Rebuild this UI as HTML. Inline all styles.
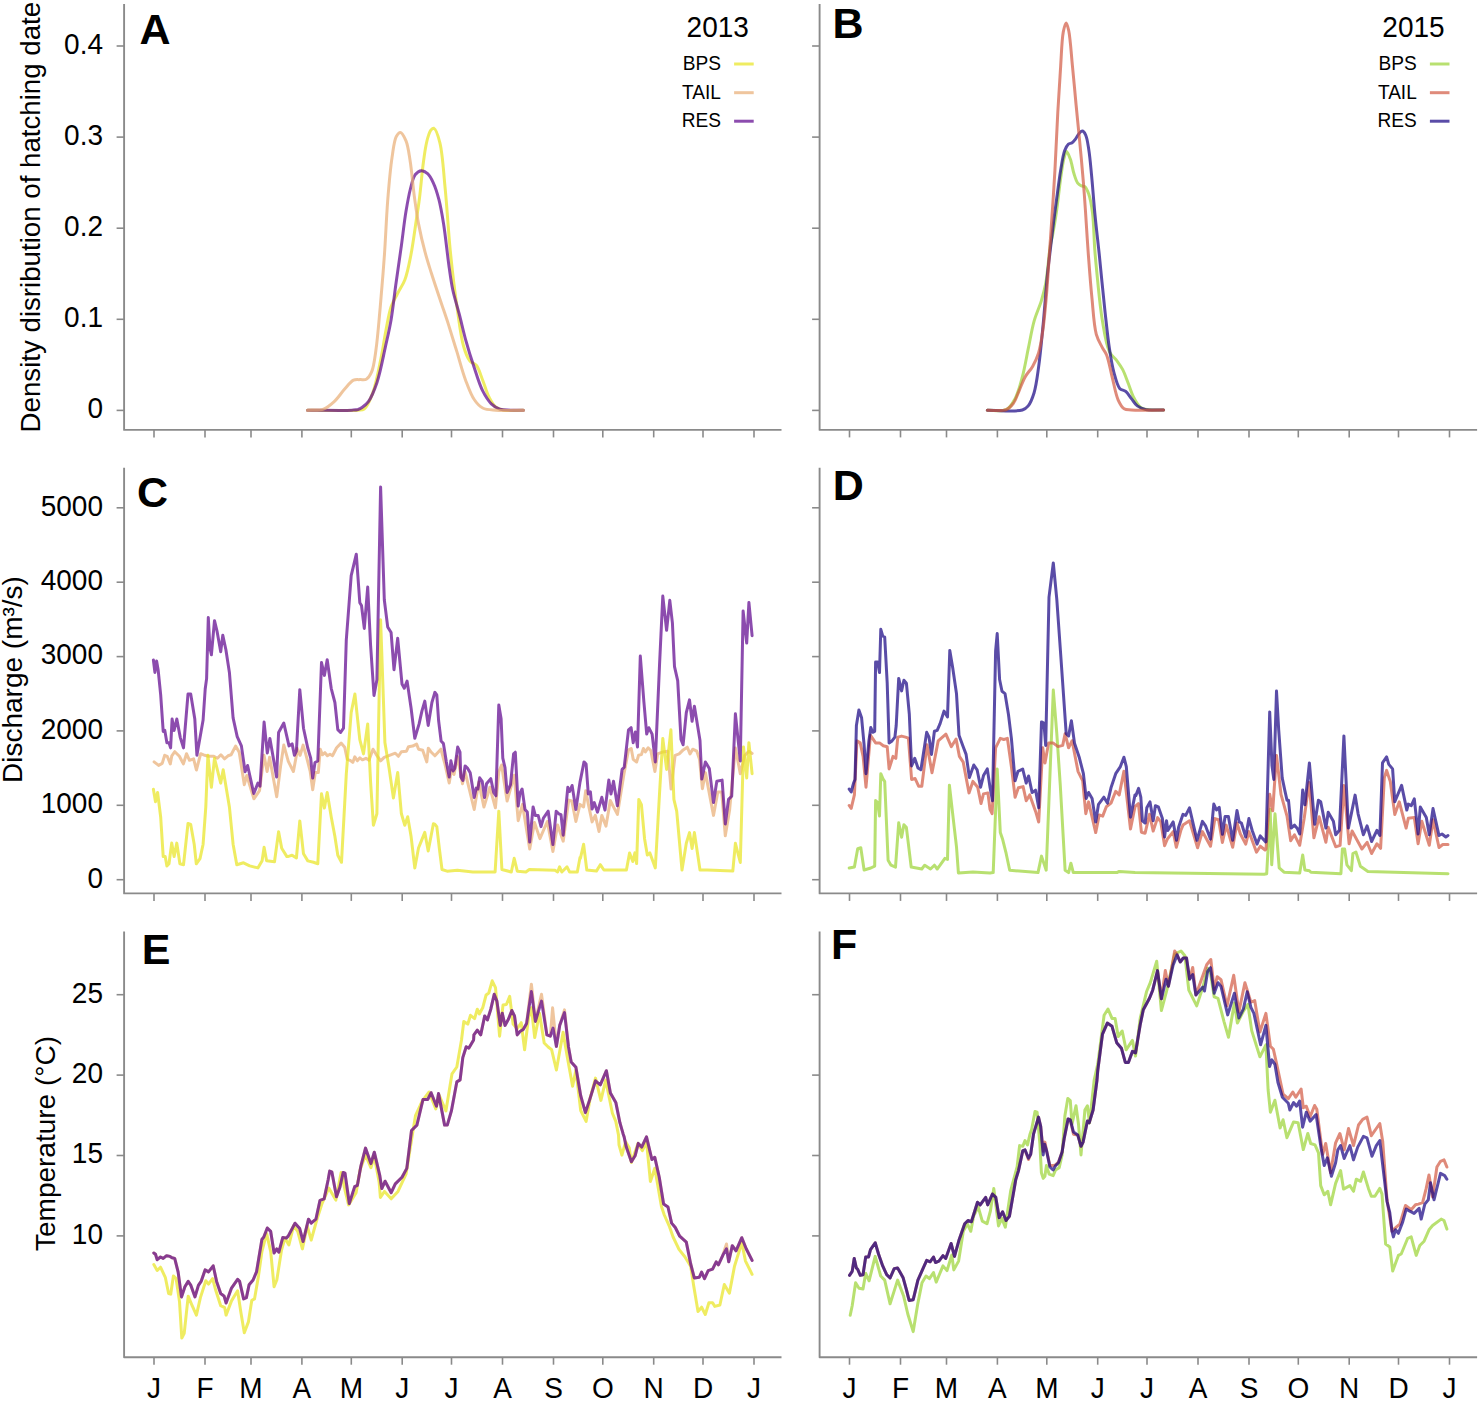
<!DOCTYPE html><html><head><meta charset="utf-8"><style>html,body{margin:0;padding:0;background:#fff;}svg{display:block;}text{font-family:"Liberation Sans",sans-serif;}</style></head><body>
<svg width="1480" height="1402" viewBox="0 0 1480 1402">
<rect width="1480" height="1402" fill="#fff"/>
<path d="M124.1 4.0 L124.1 429.9 L781.5 429.9" fill="none" stroke="#8a8a8a" stroke-width="1.9" stroke-linejoin="round"/>
<line x1="154.0" y1="429.9" x2="154.0" y2="437.4" stroke="#8a8a8a" stroke-width="1.6"/>
<line x1="205.0" y1="429.9" x2="205.0" y2="437.4" stroke="#8a8a8a" stroke-width="1.6"/>
<line x1="251.0" y1="429.9" x2="251.0" y2="437.4" stroke="#8a8a8a" stroke-width="1.6"/>
<line x1="301.9" y1="429.9" x2="301.9" y2="437.4" stroke="#8a8a8a" stroke-width="1.6"/>
<line x1="351.3" y1="429.9" x2="351.3" y2="437.4" stroke="#8a8a8a" stroke-width="1.6"/>
<line x1="402.2" y1="429.9" x2="402.2" y2="437.4" stroke="#8a8a8a" stroke-width="1.6"/>
<line x1="451.5" y1="429.9" x2="451.5" y2="437.4" stroke="#8a8a8a" stroke-width="1.6"/>
<line x1="502.5" y1="429.9" x2="502.5" y2="437.4" stroke="#8a8a8a" stroke-width="1.6"/>
<line x1="553.5" y1="429.9" x2="553.5" y2="437.4" stroke="#8a8a8a" stroke-width="1.6"/>
<line x1="602.8" y1="429.9" x2="602.8" y2="437.4" stroke="#8a8a8a" stroke-width="1.6"/>
<line x1="653.7" y1="429.9" x2="653.7" y2="437.4" stroke="#8a8a8a" stroke-width="1.6"/>
<line x1="703.0" y1="429.9" x2="703.0" y2="437.4" stroke="#8a8a8a" stroke-width="1.6"/>
<line x1="754.0" y1="429.9" x2="754.0" y2="437.4" stroke="#8a8a8a" stroke-width="1.6"/>
<path d="M819.6 4.0 L819.6 429.9 L1477.1 429.9" fill="none" stroke="#8a8a8a" stroke-width="1.9" stroke-linejoin="round"/>
<line x1="849.5" y1="429.9" x2="849.5" y2="437.4" stroke="#8a8a8a" stroke-width="1.6"/>
<line x1="900.5" y1="429.9" x2="900.5" y2="437.4" stroke="#8a8a8a" stroke-width="1.6"/>
<line x1="946.5" y1="429.9" x2="946.5" y2="437.4" stroke="#8a8a8a" stroke-width="1.6"/>
<line x1="997.4" y1="429.9" x2="997.4" y2="437.4" stroke="#8a8a8a" stroke-width="1.6"/>
<line x1="1046.8" y1="429.9" x2="1046.8" y2="437.4" stroke="#8a8a8a" stroke-width="1.6"/>
<line x1="1097.7" y1="429.9" x2="1097.7" y2="437.4" stroke="#8a8a8a" stroke-width="1.6"/>
<line x1="1147.0" y1="429.9" x2="1147.0" y2="437.4" stroke="#8a8a8a" stroke-width="1.6"/>
<line x1="1198.0" y1="429.9" x2="1198.0" y2="437.4" stroke="#8a8a8a" stroke-width="1.6"/>
<line x1="1249.0" y1="429.9" x2="1249.0" y2="437.4" stroke="#8a8a8a" stroke-width="1.6"/>
<line x1="1298.3" y1="429.9" x2="1298.3" y2="437.4" stroke="#8a8a8a" stroke-width="1.6"/>
<line x1="1349.2" y1="429.9" x2="1349.2" y2="437.4" stroke="#8a8a8a" stroke-width="1.6"/>
<line x1="1398.5" y1="429.9" x2="1398.5" y2="437.4" stroke="#8a8a8a" stroke-width="1.6"/>
<line x1="1449.5" y1="429.9" x2="1449.5" y2="437.4" stroke="#8a8a8a" stroke-width="1.6"/>
<path d="M124.1 467.8 L124.1 893.4 L781.5 893.4" fill="none" stroke="#8a8a8a" stroke-width="1.9" stroke-linejoin="round"/>
<line x1="154.0" y1="893.4" x2="154.0" y2="900.9" stroke="#8a8a8a" stroke-width="1.6"/>
<line x1="205.0" y1="893.4" x2="205.0" y2="900.9" stroke="#8a8a8a" stroke-width="1.6"/>
<line x1="251.0" y1="893.4" x2="251.0" y2="900.9" stroke="#8a8a8a" stroke-width="1.6"/>
<line x1="301.9" y1="893.4" x2="301.9" y2="900.9" stroke="#8a8a8a" stroke-width="1.6"/>
<line x1="351.3" y1="893.4" x2="351.3" y2="900.9" stroke="#8a8a8a" stroke-width="1.6"/>
<line x1="402.2" y1="893.4" x2="402.2" y2="900.9" stroke="#8a8a8a" stroke-width="1.6"/>
<line x1="451.5" y1="893.4" x2="451.5" y2="900.9" stroke="#8a8a8a" stroke-width="1.6"/>
<line x1="502.5" y1="893.4" x2="502.5" y2="900.9" stroke="#8a8a8a" stroke-width="1.6"/>
<line x1="553.5" y1="893.4" x2="553.5" y2="900.9" stroke="#8a8a8a" stroke-width="1.6"/>
<line x1="602.8" y1="893.4" x2="602.8" y2="900.9" stroke="#8a8a8a" stroke-width="1.6"/>
<line x1="653.7" y1="893.4" x2="653.7" y2="900.9" stroke="#8a8a8a" stroke-width="1.6"/>
<line x1="703.0" y1="893.4" x2="703.0" y2="900.9" stroke="#8a8a8a" stroke-width="1.6"/>
<line x1="754.0" y1="893.4" x2="754.0" y2="900.9" stroke="#8a8a8a" stroke-width="1.6"/>
<path d="M819.6 467.8 L819.6 893.4 L1477.1 893.4" fill="none" stroke="#8a8a8a" stroke-width="1.9" stroke-linejoin="round"/>
<line x1="849.5" y1="893.4" x2="849.5" y2="900.9" stroke="#8a8a8a" stroke-width="1.6"/>
<line x1="900.5" y1="893.4" x2="900.5" y2="900.9" stroke="#8a8a8a" stroke-width="1.6"/>
<line x1="946.5" y1="893.4" x2="946.5" y2="900.9" stroke="#8a8a8a" stroke-width="1.6"/>
<line x1="997.4" y1="893.4" x2="997.4" y2="900.9" stroke="#8a8a8a" stroke-width="1.6"/>
<line x1="1046.8" y1="893.4" x2="1046.8" y2="900.9" stroke="#8a8a8a" stroke-width="1.6"/>
<line x1="1097.7" y1="893.4" x2="1097.7" y2="900.9" stroke="#8a8a8a" stroke-width="1.6"/>
<line x1="1147.0" y1="893.4" x2="1147.0" y2="900.9" stroke="#8a8a8a" stroke-width="1.6"/>
<line x1="1198.0" y1="893.4" x2="1198.0" y2="900.9" stroke="#8a8a8a" stroke-width="1.6"/>
<line x1="1249.0" y1="893.4" x2="1249.0" y2="900.9" stroke="#8a8a8a" stroke-width="1.6"/>
<line x1="1298.3" y1="893.4" x2="1298.3" y2="900.9" stroke="#8a8a8a" stroke-width="1.6"/>
<line x1="1349.2" y1="893.4" x2="1349.2" y2="900.9" stroke="#8a8a8a" stroke-width="1.6"/>
<line x1="1398.5" y1="893.4" x2="1398.5" y2="900.9" stroke="#8a8a8a" stroke-width="1.6"/>
<line x1="1449.5" y1="893.4" x2="1449.5" y2="900.9" stroke="#8a8a8a" stroke-width="1.6"/>
<path d="M124.1 931.4 L124.1 1357.2 L781.5 1357.2" fill="none" stroke="#8a8a8a" stroke-width="1.9" stroke-linejoin="round"/>
<line x1="154.0" y1="1357.2" x2="154.0" y2="1364.7" stroke="#8a8a8a" stroke-width="1.6"/>
<line x1="205.0" y1="1357.2" x2="205.0" y2="1364.7" stroke="#8a8a8a" stroke-width="1.6"/>
<line x1="251.0" y1="1357.2" x2="251.0" y2="1364.7" stroke="#8a8a8a" stroke-width="1.6"/>
<line x1="301.9" y1="1357.2" x2="301.9" y2="1364.7" stroke="#8a8a8a" stroke-width="1.6"/>
<line x1="351.3" y1="1357.2" x2="351.3" y2="1364.7" stroke="#8a8a8a" stroke-width="1.6"/>
<line x1="402.2" y1="1357.2" x2="402.2" y2="1364.7" stroke="#8a8a8a" stroke-width="1.6"/>
<line x1="451.5" y1="1357.2" x2="451.5" y2="1364.7" stroke="#8a8a8a" stroke-width="1.6"/>
<line x1="502.5" y1="1357.2" x2="502.5" y2="1364.7" stroke="#8a8a8a" stroke-width="1.6"/>
<line x1="553.5" y1="1357.2" x2="553.5" y2="1364.7" stroke="#8a8a8a" stroke-width="1.6"/>
<line x1="602.8" y1="1357.2" x2="602.8" y2="1364.7" stroke="#8a8a8a" stroke-width="1.6"/>
<line x1="653.7" y1="1357.2" x2="653.7" y2="1364.7" stroke="#8a8a8a" stroke-width="1.6"/>
<line x1="703.0" y1="1357.2" x2="703.0" y2="1364.7" stroke="#8a8a8a" stroke-width="1.6"/>
<line x1="754.0" y1="1357.2" x2="754.0" y2="1364.7" stroke="#8a8a8a" stroke-width="1.6"/>
<path d="M819.6 931.4 L819.6 1357.2 L1477.1 1357.2" fill="none" stroke="#8a8a8a" stroke-width="1.9" stroke-linejoin="round"/>
<line x1="849.5" y1="1357.2" x2="849.5" y2="1364.7" stroke="#8a8a8a" stroke-width="1.6"/>
<line x1="900.5" y1="1357.2" x2="900.5" y2="1364.7" stroke="#8a8a8a" stroke-width="1.6"/>
<line x1="946.5" y1="1357.2" x2="946.5" y2="1364.7" stroke="#8a8a8a" stroke-width="1.6"/>
<line x1="997.4" y1="1357.2" x2="997.4" y2="1364.7" stroke="#8a8a8a" stroke-width="1.6"/>
<line x1="1046.8" y1="1357.2" x2="1046.8" y2="1364.7" stroke="#8a8a8a" stroke-width="1.6"/>
<line x1="1097.7" y1="1357.2" x2="1097.7" y2="1364.7" stroke="#8a8a8a" stroke-width="1.6"/>
<line x1="1147.0" y1="1357.2" x2="1147.0" y2="1364.7" stroke="#8a8a8a" stroke-width="1.6"/>
<line x1="1198.0" y1="1357.2" x2="1198.0" y2="1364.7" stroke="#8a8a8a" stroke-width="1.6"/>
<line x1="1249.0" y1="1357.2" x2="1249.0" y2="1364.7" stroke="#8a8a8a" stroke-width="1.6"/>
<line x1="1298.3" y1="1357.2" x2="1298.3" y2="1364.7" stroke="#8a8a8a" stroke-width="1.6"/>
<line x1="1349.2" y1="1357.2" x2="1349.2" y2="1364.7" stroke="#8a8a8a" stroke-width="1.6"/>
<line x1="1398.5" y1="1357.2" x2="1398.5" y2="1364.7" stroke="#8a8a8a" stroke-width="1.6"/>
<line x1="1449.5" y1="1357.2" x2="1449.5" y2="1364.7" stroke="#8a8a8a" stroke-width="1.6"/>
<line x1="116.6" y1="410.4" x2="124.1" y2="410.4" stroke="#8a8a8a" stroke-width="1.6"/>
<line x1="116.6" y1="319.3" x2="124.1" y2="319.3" stroke="#8a8a8a" stroke-width="1.6"/>
<line x1="116.6" y1="228.2" x2="124.1" y2="228.2" stroke="#8a8a8a" stroke-width="1.6"/>
<line x1="116.6" y1="137.1" x2="124.1" y2="137.1" stroke="#8a8a8a" stroke-width="1.6"/>
<line x1="116.6" y1="46.0" x2="124.1" y2="46.0" stroke="#8a8a8a" stroke-width="1.6"/>
<line x1="116.6" y1="879.7" x2="124.1" y2="879.7" stroke="#8a8a8a" stroke-width="1.6"/>
<line x1="116.6" y1="805.3" x2="124.1" y2="805.3" stroke="#8a8a8a" stroke-width="1.6"/>
<line x1="116.6" y1="730.9" x2="124.1" y2="730.9" stroke="#8a8a8a" stroke-width="1.6"/>
<line x1="116.6" y1="656.6" x2="124.1" y2="656.6" stroke="#8a8a8a" stroke-width="1.6"/>
<line x1="116.6" y1="582.2" x2="124.1" y2="582.2" stroke="#8a8a8a" stroke-width="1.6"/>
<line x1="116.6" y1="507.8" x2="124.1" y2="507.8" stroke="#8a8a8a" stroke-width="1.6"/>
<line x1="116.6" y1="1235.9" x2="124.1" y2="1235.9" stroke="#8a8a8a" stroke-width="1.6"/>
<line x1="116.6" y1="1155.5" x2="124.1" y2="1155.5" stroke="#8a8a8a" stroke-width="1.6"/>
<line x1="116.6" y1="1075.1" x2="124.1" y2="1075.1" stroke="#8a8a8a" stroke-width="1.6"/>
<line x1="116.6" y1="994.7" x2="124.1" y2="994.7" stroke="#8a8a8a" stroke-width="1.6"/>
<line x1="812.1" y1="410.4" x2="819.6" y2="410.4" stroke="#8a8a8a" stroke-width="1.6"/>
<line x1="812.1" y1="319.3" x2="819.6" y2="319.3" stroke="#8a8a8a" stroke-width="1.6"/>
<line x1="812.1" y1="228.2" x2="819.6" y2="228.2" stroke="#8a8a8a" stroke-width="1.6"/>
<line x1="812.1" y1="137.1" x2="819.6" y2="137.1" stroke="#8a8a8a" stroke-width="1.6"/>
<line x1="812.1" y1="46.0" x2="819.6" y2="46.0" stroke="#8a8a8a" stroke-width="1.6"/>
<line x1="812.1" y1="879.7" x2="819.6" y2="879.7" stroke="#8a8a8a" stroke-width="1.6"/>
<line x1="812.1" y1="805.3" x2="819.6" y2="805.3" stroke="#8a8a8a" stroke-width="1.6"/>
<line x1="812.1" y1="730.9" x2="819.6" y2="730.9" stroke="#8a8a8a" stroke-width="1.6"/>
<line x1="812.1" y1="656.6" x2="819.6" y2="656.6" stroke="#8a8a8a" stroke-width="1.6"/>
<line x1="812.1" y1="582.2" x2="819.6" y2="582.2" stroke="#8a8a8a" stroke-width="1.6"/>
<line x1="812.1" y1="507.8" x2="819.6" y2="507.8" stroke="#8a8a8a" stroke-width="1.6"/>
<line x1="812.1" y1="1235.9" x2="819.6" y2="1235.9" stroke="#8a8a8a" stroke-width="1.6"/>
<line x1="812.1" y1="1155.5" x2="819.6" y2="1155.5" stroke="#8a8a8a" stroke-width="1.6"/>
<line x1="812.1" y1="1075.1" x2="819.6" y2="1075.1" stroke="#8a8a8a" stroke-width="1.6"/>
<line x1="812.1" y1="994.7" x2="819.6" y2="994.7" stroke="#8a8a8a" stroke-width="1.6"/>
<text transform="translate(103.0,418.2) scale(1,1.06)" font-size="28" text-anchor="end">0</text>
<text transform="translate(103.0,327.1) scale(1,1.06)" font-size="28" text-anchor="end">0.1</text>
<text transform="translate(103.0,236.0) scale(1,1.06)" font-size="28" text-anchor="end">0.2</text>
<text transform="translate(103.0,144.9) scale(1,1.06)" font-size="28" text-anchor="end">0.3</text>
<text transform="translate(103.0,53.8) scale(1,1.06)" font-size="28" text-anchor="end">0.4</text>
<text transform="translate(103.0,887.5) scale(1,1.06)" font-size="28" text-anchor="end">0</text>
<text transform="translate(103.0,813.1) scale(1,1.06)" font-size="28" text-anchor="end">1000</text>
<text transform="translate(103.0,738.7) scale(1,1.06)" font-size="28" text-anchor="end">2000</text>
<text transform="translate(103.0,664.4) scale(1,1.06)" font-size="28" text-anchor="end">3000</text>
<text transform="translate(103.0,590.0) scale(1,1.06)" font-size="28" text-anchor="end">4000</text>
<text transform="translate(103.0,515.6) scale(1,1.06)" font-size="28" text-anchor="end">5000</text>
<text transform="translate(103.0,1243.7) scale(1,1.06)" font-size="28" text-anchor="end">10</text>
<text transform="translate(103.0,1163.3) scale(1,1.06)" font-size="28" text-anchor="end">15</text>
<text transform="translate(103.0,1082.9) scale(1,1.06)" font-size="28" text-anchor="end">20</text>
<text transform="translate(103.0,1002.5) scale(1,1.06)" font-size="28" text-anchor="end">25</text>
<text transform="translate(39.8,432.4) rotate(-90) scale(0.988,1)" font-size="28">Density disribution of hatching date</text>
<text transform="translate(22.3,783) rotate(-90)" font-size="28">Discharge (m³/s)</text>
<text transform="translate(55.1,1251) rotate(-90)" font-size="28">Temperature (°C)</text>
<text transform="translate(154.0,1398.3) scale(1,1.06)" font-size="28" text-anchor="middle">J</text>
<text transform="translate(205.0,1398.3) scale(1,1.06)" font-size="28" text-anchor="middle">F</text>
<text transform="translate(251.0,1398.3) scale(1,1.06)" font-size="28" text-anchor="middle">M</text>
<text transform="translate(301.9,1398.3) scale(1,1.06)" font-size="28" text-anchor="middle">A</text>
<text transform="translate(351.3,1398.3) scale(1,1.06)" font-size="28" text-anchor="middle">M</text>
<text transform="translate(402.2,1398.3) scale(1,1.06)" font-size="28" text-anchor="middle">J</text>
<text transform="translate(451.5,1398.3) scale(1,1.06)" font-size="28" text-anchor="middle">J</text>
<text transform="translate(502.5,1398.3) scale(1,1.06)" font-size="28" text-anchor="middle">A</text>
<text transform="translate(553.5,1398.3) scale(1,1.06)" font-size="28" text-anchor="middle">S</text>
<text transform="translate(602.8,1398.3) scale(1,1.06)" font-size="28" text-anchor="middle">O</text>
<text transform="translate(653.7,1398.3) scale(1,1.06)" font-size="28" text-anchor="middle">N</text>
<text transform="translate(703.0,1398.3) scale(1,1.06)" font-size="28" text-anchor="middle">D</text>
<text transform="translate(754.0,1398.3) scale(1,1.06)" font-size="28" text-anchor="middle">J</text>
<text transform="translate(849.5,1398.3) scale(1,1.06)" font-size="28" text-anchor="middle">J</text>
<text transform="translate(900.5,1398.3) scale(1,1.06)" font-size="28" text-anchor="middle">F</text>
<text transform="translate(946.5,1398.3) scale(1,1.06)" font-size="28" text-anchor="middle">M</text>
<text transform="translate(997.4,1398.3) scale(1,1.06)" font-size="28" text-anchor="middle">A</text>
<text transform="translate(1046.8,1398.3) scale(1,1.06)" font-size="28" text-anchor="middle">M</text>
<text transform="translate(1097.7,1398.3) scale(1,1.06)" font-size="28" text-anchor="middle">J</text>
<text transform="translate(1147.0,1398.3) scale(1,1.06)" font-size="28" text-anchor="middle">J</text>
<text transform="translate(1198.0,1398.3) scale(1,1.06)" font-size="28" text-anchor="middle">A</text>
<text transform="translate(1249.0,1398.3) scale(1,1.06)" font-size="28" text-anchor="middle">S</text>
<text transform="translate(1298.3,1398.3) scale(1,1.06)" font-size="28" text-anchor="middle">O</text>
<text transform="translate(1349.2,1398.3) scale(1,1.06)" font-size="28" text-anchor="middle">N</text>
<text transform="translate(1398.5,1398.3) scale(1,1.06)" font-size="28" text-anchor="middle">D</text>
<text transform="translate(1449.5,1398.3) scale(1,1.06)" font-size="28" text-anchor="middle">J</text>
<text x="139.5" y="43.7" font-size="43" font-weight="bold">A</text>
<text x="832.4" y="38.1" font-size="43" font-weight="bold">B</text>
<text x="137.0" y="507.0" font-size="43" font-weight="bold">C</text>
<text x="832.7" y="499.7" font-size="43" font-weight="bold">D</text>
<text x="141.7" y="964.2" font-size="43" font-weight="bold">E</text>
<text x="831.1" y="959.2" font-size="43" font-weight="bold">F</text>
<text transform="translate(717.7,37.4) scale(1,1.06)" font-size="28" text-anchor="middle">2013</text>
<text transform="translate(721.0,69.8) scale(0.955,1)" font-size="20" text-anchor="end">BPS</text>
<line x1="734.1" y1="64.0" x2="753.7" y2="64.0" stroke="#e8e41e" stroke-opacity="0.7" stroke-width="3"/>
<text transform="translate(721.0,98.8) scale(0.955,1)" font-size="20" text-anchor="end">TAIL</text>
<line x1="734.1" y1="92.7" x2="753.7" y2="92.7" stroke="#e8ac73" stroke-opacity="0.7" stroke-width="3"/>
<text transform="translate(721.0,127.4) scale(0.955,1)" font-size="20" text-anchor="end">RES</text>
<line x1="734.1" y1="121.2" x2="753.7" y2="121.2" stroke="#5b008b" stroke-opacity="0.7" stroke-width="3"/>
<text transform="translate(1413.5,37.4) scale(1,1.06)" font-size="28" text-anchor="middle">2015</text>
<text transform="translate(1416.8,69.8) scale(0.955,1)" font-size="20" text-anchor="end">BPS</text>
<line x1="1429.9" y1="64.0" x2="1449.5" y2="64.0" stroke="#9ad333" stroke-opacity="0.7" stroke-width="3"/>
<text transform="translate(1416.8,98.8) scale(0.955,1)" font-size="20" text-anchor="end">TAIL</text>
<line x1="1429.9" y1="92.7" x2="1449.5" y2="92.7" stroke="#d15942" stroke-opacity="0.7" stroke-width="3"/>
<text transform="translate(1416.8,127.4) scale(0.955,1)" font-size="20" text-anchor="end">RES</text>
<line x1="1429.9" y1="121.2" x2="1449.5" y2="121.2" stroke="#140082" stroke-opacity="0.7" stroke-width="3"/>
<path d="M307.5 410.2 C324.3 410.2 349.3 411.0 358.0 410.2 C361.1 409.9 362.3 410.4 364.2 409.0 C367.4 406.6 370.2 399.7 372.7 393.1 C376.3 383.6 379.0 367.9 381.3 356.7 C383.3 347.1 384.3 338.6 386.0 330.0 C387.6 322.0 388.8 313.5 391.0 307.0 C392.8 301.9 395.1 298.4 397.3 294.0 C399.6 289.4 402.7 285.4 404.8 280.0 C407.3 273.4 408.8 265.6 410.5 257.0 C412.7 246.2 414.7 230.7 416.3 220.0 C417.6 211.7 418.5 206.0 419.5 198.0 C420.7 188.6 421.7 176.1 422.8 167.0 C423.7 159.9 424.5 153.5 425.5 148.0 C426.3 143.6 427.1 139.7 428.2 136.4 C429.0 133.9 429.8 131.4 431.0 130.0 C431.9 129.0 433.0 128.0 434.0 128.3 C436.1 129.0 438.3 136.4 439.9 142.8 C442.7 153.9 443.6 173.0 445.3 189.9 C447.2 209.6 448.5 233.6 450.6 254.0 C452.5 272.7 454.7 291.2 457.1 307.5 C459.1 321.4 460.7 336.3 463.5 346.0 C465.3 352.3 467.2 357.7 469.9 361.0 C471.8 363.3 474.4 363.1 476.3 365.3 C479.0 368.6 480.6 375.0 482.7 380.2 C484.9 385.7 486.6 392.5 489.1 397.3 C491.1 401.1 492.9 404.8 495.6 407.0 C498.0 408.9 500.6 409.6 504.1 410.2 C509.2 411.1 517.0 410.2 523.4 410.2" fill="none" stroke="#e8e41e" stroke-width="3" stroke-opacity="0.7" stroke-linejoin="round" stroke-linecap="round"/>
<path d="M307.5 410.2 C322.3 410.2 344.0 410.7 352.0 410.2 C354.9 410.0 356.2 410.0 358.0 409.5 C359.5 409.0 360.6 408.5 362.0 407.5 C364.0 406.1 366.4 404.4 368.4 401.6 C371.5 397.2 374.4 390.0 377.0 382.4 C380.4 372.3 383.1 357.2 385.6 346.0 C387.7 336.5 389.5 329.1 391.1 319.7 C392.9 309.1 394.1 297.3 395.7 285.5 C397.5 272.7 399.6 258.3 401.4 245.5 C403.0 233.7 404.3 221.5 406.0 211.3 C407.4 202.9 408.8 195.1 410.5 188.5 C411.9 183.3 412.8 177.8 415.1 174.8 C416.8 172.7 419.3 170.9 421.4 170.8 C423.4 170.7 425.8 172.1 427.6 173.7 C429.9 175.7 431.6 179.2 433.3 182.8 C435.5 187.5 437.4 193.7 439.0 199.9 C440.9 207.2 442.1 214.6 443.6 223.9 C445.6 236.4 447.5 256.2 449.3 268.4 C450.5 276.9 451.2 282.7 452.8 290.0 C454.5 297.8 457.1 305.8 459.2 313.9 C461.4 322.3 463.2 330.9 465.6 339.6 C468.1 348.7 471.2 358.6 474.2 367.4 C476.9 375.6 479.4 384.4 482.7 390.9 C485.3 396.0 488.1 400.7 491.3 403.8 C493.9 406.3 496.7 408.0 499.8 409.1 C503.0 410.2 506.8 410.0 510.5 410.2 C514.6 410.4 519.1 410.2 523.4 410.2" fill="none" stroke="#5b008b" stroke-width="3" stroke-opacity="0.7" stroke-linejoin="round" stroke-linecap="round"/>
<path d="M307.5 410.2 C312.8 409.8 318.9 410.7 323.5 409.1 C327.7 407.6 330.8 404.7 334.2 401.6 C338.0 398.1 341.4 392.6 344.9 388.8 C347.8 385.6 350.6 381.6 353.5 380.2 C355.6 379.2 357.8 379.8 359.9 379.6 C362.0 379.4 364.5 380.2 366.3 379.2 C368.5 378.0 370.3 375.0 371.7 371.7 C373.9 366.6 374.7 358.7 375.9 350.3 C377.6 338.5 378.8 322.6 380.2 307.5 C381.7 290.7 383.2 271.8 384.5 254.0 C385.7 236.2 386.4 217.4 387.7 200.6 C388.9 185.5 390.2 169.6 392.0 157.8 C393.3 149.4 394.0 140.5 396.3 136.4 C397.5 134.3 399.1 132.3 400.5 132.5 C402.3 132.7 404.4 137.2 405.9 140.7 C408.0 145.6 408.8 152.5 410.0 159.9 C411.7 170.1 412.8 185.0 414.3 196.3 C415.7 206.2 416.8 214.9 418.6 224.1 C420.4 233.4 422.7 243.3 425.0 251.9 C427.0 259.5 429.1 265.9 431.4 273.3 C434.0 281.5 437.0 290.4 439.9 299.0 C442.7 307.5 445.7 315.9 448.5 324.6 C451.4 333.7 454.2 343.1 457.1 352.4 C459.9 361.7 462.5 371.9 465.6 380.2 C468.3 387.3 470.8 394.6 474.2 399.5 C476.7 403.2 479.2 406.2 482.7 408.0 C486.3 409.9 490.5 409.8 495.6 410.2 C503.1 410.8 514.1 410.2 523.4 410.2" fill="none" stroke="#e8ac73" stroke-width="3" stroke-opacity="0.7" stroke-linejoin="round" stroke-linecap="round"/>
<path d="M987.3 410.3 C993.6 410.1 1001.5 412.0 1006.3 409.6 C1010.4 407.5 1012.6 403.2 1015.1 398.6 C1018.3 392.8 1020.3 384.5 1022.4 376.7 C1024.7 368.0 1026.3 358.2 1028.2 348.9 C1030.2 339.6 1031.7 329.6 1034.1 321.1 C1036.2 313.7 1039.4 307.2 1041.4 300.6 C1043.2 294.6 1044.5 290.0 1045.8 283.1 C1047.6 273.2 1048.8 255.2 1050.2 246.5 C1051.0 241.6 1051.8 239.5 1052.6 235.0 C1053.8 228.8 1055.1 221.2 1056.3 212.8 C1057.9 202.0 1059.5 185.8 1061.0 175.7 C1062.0 168.7 1062.8 162.4 1064.0 158.0 C1064.8 155.3 1065.5 151.6 1066.5 151.5 C1067.6 151.4 1069.2 156.0 1070.3 159.0 C1071.8 163.0 1072.6 169.5 1074.0 173.8 C1075.1 177.3 1076.1 181.0 1077.7 183.1 C1078.8 184.5 1080.1 185.3 1081.4 185.9 C1082.6 186.5 1084.0 185.9 1085.1 186.8 C1086.7 188.1 1087.7 191.1 1088.8 194.2 C1090.4 198.9 1091.6 205.5 1092.5 212.8 C1093.8 223.0 1094.0 239.1 1094.8 249.9 C1095.4 258.2 1095.9 263.2 1096.8 272.0 C1098.1 284.9 1099.8 305.3 1102.2 319.6 C1104.2 331.4 1106.0 344.7 1109.5 351.8 C1111.6 356.0 1114.6 357.6 1116.8 360.6 C1118.9 363.5 1120.8 366.0 1122.6 369.4 C1124.8 373.6 1126.5 379.1 1128.5 384.0 C1130.4 388.9 1131.9 394.4 1134.3 398.6 C1136.4 402.3 1138.5 406.2 1141.6 408.1 C1144.5 409.9 1148.3 409.7 1151.9 410.0 C1155.7 410.3 1159.7 410.0 1163.6 410.0" fill="none" stroke="#9ad333" stroke-width="3" stroke-opacity="0.7" stroke-linejoin="round" stroke-linecap="round"/>
<path d="M987.3 410.3 C999.0 410.2 1015.8 412.1 1022.4 410.0 C1025.4 409.0 1026.5 408.0 1028.2 405.9 C1030.6 402.9 1032.5 397.9 1034.1 392.7 C1036.2 385.8 1037.2 377.2 1038.5 367.9 C1040.2 356.0 1041.5 341.4 1042.9 327.0 C1044.5 310.9 1045.9 290.0 1047.3 275.8 C1048.3 265.7 1049.3 258.7 1050.3 249.9 C1051.4 240.8 1052.4 231.3 1053.6 222.0 C1054.8 212.7 1056.0 203.3 1057.3 194.2 C1058.5 185.4 1059.6 176.0 1061.0 168.2 C1062.1 161.7 1063.1 154.9 1064.7 150.6 C1065.8 147.8 1066.9 145.4 1068.4 144.1 C1069.5 143.2 1071.0 143.5 1072.1 142.7 C1073.5 141.8 1074.6 140.1 1075.8 138.6 C1077.1 136.9 1078.2 134.3 1079.5 133.0 C1080.4 132.1 1081.4 131.0 1082.3 131.1 C1083.4 131.2 1084.7 133.0 1085.6 134.8 C1087.2 138.0 1087.9 144.0 1088.8 149.7 C1090.0 157.1 1090.7 166.3 1091.6 175.7 C1092.7 187.0 1093.6 200.1 1094.8 212.8 C1096.1 226.2 1097.6 239.0 1099.2 253.9 C1101.0 271.7 1103.2 295.1 1105.1 312.3 C1106.6 325.9 1107.8 338.1 1109.5 348.9 C1110.8 357.6 1112.0 365.3 1113.9 372.3 C1115.5 378.2 1117.0 385.4 1119.7 388.4 C1121.4 390.3 1123.8 389.8 1125.6 391.3 C1127.8 393.0 1129.5 396.2 1131.4 398.6 C1133.4 401.0 1134.9 404.1 1137.3 405.9 C1139.7 407.7 1142.5 408.8 1146.0 409.6 C1150.8 410.6 1157.7 409.9 1163.6 410.0" fill="none" stroke="#140082" stroke-width="3" stroke-opacity="0.7" stroke-linejoin="round" stroke-linecap="round"/>
<path d="M987.3 410.3 C993.6 410.1 1001.7 411.5 1006.3 409.6 C1009.6 408.3 1011.5 405.8 1013.6 403.0 C1016.1 399.5 1017.5 394.2 1019.5 389.8 C1021.4 385.4 1023.0 380.7 1025.3 376.7 C1027.4 372.9 1030.5 370.2 1032.6 366.4 C1034.9 362.4 1036.9 358.4 1038.5 353.3 C1040.6 346.7 1041.7 338.5 1042.9 329.9 C1044.4 319.4 1045.4 307.0 1046.5 294.8 C1047.6 281.7 1048.4 267.8 1049.4 253.9 C1050.4 239.5 1051.5 224.2 1052.4 210.0 C1053.3 196.6 1054.1 185.2 1054.9 170.8 C1055.9 153.2 1056.8 130.7 1057.8 112.3 C1058.7 95.9 1059.7 79.9 1060.7 65.6 C1061.5 53.4 1061.8 39.5 1063.3 31.9 C1064.1 27.9 1065.2 22.9 1066.1 22.9 C1067.0 22.9 1067.9 27.0 1068.7 30.5 C1070.3 37.9 1071.2 53.6 1072.4 65.6 C1073.7 78.4 1074.9 92.1 1076.1 105.0 C1077.3 117.4 1078.5 129.1 1079.7 141.6 C1081.0 154.9 1082.4 170.2 1083.4 182.5 C1084.2 192.6 1084.7 199.8 1085.4 210.0 C1086.3 222.9 1087.2 239.3 1088.3 253.9 C1089.4 268.5 1090.5 283.8 1091.9 297.7 C1093.2 310.5 1093.8 325.3 1096.3 334.3 C1097.9 339.9 1100.3 343.7 1102.2 347.4 C1103.7 350.2 1105.2 351.5 1106.5 354.7 C1108.8 360.2 1110.4 370.4 1112.4 378.1 C1114.3 385.6 1115.7 394.6 1118.2 400.1 C1119.9 403.8 1121.6 407.2 1124.1 408.8 C1126.2 410.1 1128.1 409.7 1131.4 410.0 C1138.3 410.6 1152.9 410.0 1163.6 410.0" fill="none" stroke="#d15942" stroke-width="3" stroke-opacity="0.7" stroke-linejoin="round" stroke-linecap="round"/>
<polyline points="154.1,761.9 158.6,765.4 162.2,763.4 164.7,755.3 167.2,756.3 170.3,763.9 171.8,755.8 174.8,751.7 179.4,756.3 183.4,763.9 186.5,753.7 189.5,760.3 193.6,758.8 196.4,770.0 200.7,753.7 204.7,755.3 208.3,756.3 213.8,756.3 217.4,758.3 220.9,754.8 224.5,758.8 228.0,755.8 231.1,754.8 235.6,746.1 239.2,752.2 244.3,784.7 246.8,775.5 253.9,798.8 259.5,790.7 264.0,755.3 267.1,771.5 269.6,757.3 276.7,796.8 280.7,765.4 283.8,745.1 288.3,761.4 293.4,771.5 297.0,752.2 297.0,748.2 300.1,755.3 303.1,745.1 306.1,755.3 310.2,771.5 312.7,789.7 315.3,772.5 318.3,772.5 320.3,749.2 322.4,754.8 324.9,752.7 327.4,755.8 330.0,754.3 332.5,755.8 336.6,747.7 341.1,743.1 344.7,747.2 347.2,759.3 350.2,760.3 352.8,762.4 354.8,756.8 357.3,760.8 359.9,757.8 362.4,759.8 365.9,758.3 369.0,760.3 373.0,749.2 376.1,754.3 380.6,760.8 384.2,757.3 388.2,755.8 395.3,753.2 398.4,756.3 401.4,751.7 406.5,751.2 408.5,746.7 412.6,746.1 416.6,744.1 418.6,749.2 422.7,750.2 426.8,761.9 428.3,748.2 430.8,751.7 434.9,755.8 440.9,749.2 445.0,764.4 449.2,783.0 451.4,770.1 454.0,774.4 457.4,756.4 462.5,783.8 465.1,771.8 474.2,809.5 478.8,782.1 483.9,807.0 489.9,787.3 495.4,807.8 498.8,771.8 501.6,765.0 507.1,801.0 514.2,775.3 518.2,820.7 522.5,804.4 529.7,848.9 534.5,822.4 539.9,838.6 547.3,821.5 552.9,851.5 557.6,824.9 563.2,841.2 568.7,800.1 571.8,801.0 575.9,821.5 580.0,804.4 583.6,806.9 585.7,790.8 588.9,806.9 592.1,821.9 595.3,815.4 599.0,831.5 601.8,815.4 606.0,826.1 610.3,800.5 613.5,806.9 617.4,814.4 624.2,772.6 628.5,749.9 631.2,748.5 633.2,759.3 636.6,762.0 638.6,755.3 641.4,754.6 643.4,748.5 645.4,751.9 648.1,747.8 650.8,750.5 654.9,771.5 657.6,753.9 663.0,751.9 667.7,751.2 671.1,789.1 675.1,755.3 679.2,753.9 683.2,749.9 687.3,747.2 690.0,753.9 692.7,749.2 696.8,751.2 699.5,759.3 700.0,764.1 702.4,788.7 705.4,772.6 713.5,815.4 717.8,791.9 721.7,791.9 725.3,835.8 729.6,810.1 735.4,748.0 740.3,773.7 744.6,755.5 748.9,751.2 752.1,753.4" fill="none" stroke="#e8ac73" stroke-width="3" stroke-opacity="0.7" stroke-linejoin="round" stroke-linecap="round"/>
<polyline points="153.4,789.3 155.5,801.7 157.6,792.4 160.7,817.3 163.2,856.6 165.2,856.6 166.9,865.9 169.0,863.8 171.7,843.1 174.1,856.6 176.8,843.1 179.9,863.8 183.5,864.8 188.0,823.5 190.7,824.5 194.2,844.2 196.3,863.8 200.0,858.6 203.1,844.2 205.8,806.9 207.9,755.2 211.4,787.3 214.5,758.3 220.7,783.1 223.2,769.7 229.4,806.9 233.1,844.2 236.8,864.8 243.5,862.8 249.7,865.9 257.9,867.9 262.1,860.7 264.1,847.3 266.6,860.7 274.5,861.7 278.6,831.7 281.7,848.3 286.9,856.6 287.9,856.6 292.1,855.2 296.4,858.0 299.8,820.9 303.5,853.8 307.8,860.9 313.5,862.3 317.8,863.7 321.5,793.8 324.4,808.1 327.2,792.4 331.2,816.7 334.9,836.6 337.8,855.2 341.5,862.3 346.3,773.9 351.2,712.5 354.9,694.0 359.8,739.6 363.5,753.9 367.7,723.9 370.6,782.4 373.4,825.2 376.9,813.8 380.6,619.8 384.9,742.5 389.1,768.2 393.4,798.1 397.7,772.4 401.4,813.8 404.8,825.2 407.7,816.7 411.1,836.6 414.8,868.0 418.5,848.0 421.4,840.9 424.8,832.4 428.2,850.9 433.4,823.8 434.8,824.1 436.8,826.6 439.4,848.9 442.0,869.5 447.1,871.2 457.4,870.3 472.8,872.0 495.1,872.0 498.8,811.2 501.9,869.5 511.3,872.0 514.2,858.3 517.3,871.2 525.9,872.0 529.3,869.5 555.0,870.3 557.6,872.0 559.6,866.9 561.8,872.0 567.0,866.9 569.6,872.0 577.3,872.0 580.0,857.5 580.4,858.3 583.6,844.3 586.8,870.0 596.4,871.1 600.3,864.7 603.9,870.0 626.4,870.0 629.6,852.9 632.8,861.5 634.9,852.9 636.6,863.6 638.8,799.4 641.4,804.7 644.6,839.0 647.3,855.0 649.9,852.9 655.3,867.9 659.5,794.0 662.8,738.4 666.6,769.4 670.9,729.8 673.9,799.4 676.7,811.2 682.0,870.0 686.3,843.3 689.5,832.6 692.1,848.6 694.4,832.6 700.0,870.0 707.1,870.0 732.8,871.1 735.4,843.3 740.3,862.5 743.5,747.0 746.7,778.0 748.9,742.7 752.1,773.7" fill="none" stroke="#e8e41e" stroke-width="3" stroke-opacity="0.7" stroke-linejoin="round" stroke-linecap="round"/>
<polyline points="153.4,660.0 154.9,672.4 156.6,661.0 158.2,670.3 160.7,695.2 163.2,731.4 164.8,730.4 166.9,742.8 169.0,742.8 170.6,747.9 172.1,719.0 174.1,730.4 176.8,719.0 180.3,737.6 183.5,747.9 188.0,694.1 190.7,694.1 194.8,719.0 196.9,755.2 203.1,720.0 205.2,689.0 206.6,678.6 208.3,617.6 209.9,647.6 211.4,654.8 214.5,620.7 217.0,631.0 220.7,651.7 222.8,635.2 225.9,649.7 229.4,672.4 233.1,717.9 237.2,736.6 241.4,745.9 245.1,771.7 247.6,765.5 253.8,793.5 257.9,783.1 260.0,786.2 264.1,722.1 267.3,753.1 269.9,738.6 276.6,776.9 278.6,732.4 283.8,723.1 289.0,745.9 290.1,745.3 292.1,743.9 294.4,755.3 296.4,751.0 299.8,689.7 303.5,728.2 307.8,748.2 310.7,758.2 312.7,778.1 315.0,762.5 317.8,761.0 321.5,662.6 324.4,675.4 327.2,659.7 331.2,688.3 334.9,702.5 337.8,729.6 340.6,732.5 343.5,728.2 346.3,639.8 351.2,575.6 356.3,554.2 359.8,602.7 361.5,605.5 364.3,628.4 367.7,587.0 370.6,645.5 374.0,695.4 376.9,679.7 380.6,487.1 384.3,599.8 387.7,626.9 391.1,632.6 394.0,669.7 397.7,638.3 402.0,684.0 404.3,688.3 407.1,681.1 411.1,708.2 414.8,738.2 419.1,723.9 421.9,711.1 424.8,701.1 428.2,725.4 431.9,702.5 434.8,692.6 434.8,692.2 436.8,694.8 438.6,720.5 441.1,741.0 443.4,743.6 446.3,761.6 449.2,777.0 450.9,760.7 453.1,771.0 454.8,768.4 457.7,747.0 460.0,752.2 460.8,777.0 462.9,780.4 465.1,765.9 467.7,768.4 470.2,772.7 474.2,797.5 476.2,788.1 477.9,789.0 479.7,777.8 482.2,781.3 484.5,797.5 486.5,783.8 490.8,778.7 493.7,792.4 495.9,795.8 498.8,705.1 501.1,718.8 502.8,758.2 505.0,767.6 507.1,792.4 510.5,784.7 513.6,753.9 515.3,752.2 518.2,806.1 519.9,793.3 522.1,789.0 525.0,809.5 527.3,812.1 529.7,842.1 533.1,807.0 535.3,815.5 538.2,815.5 541.0,826.6 543.4,818.1 548.2,811.2 552.9,844.6 556.2,811.2 558.8,813.8 561.0,814.7 563.2,835.2 567.8,787.3 569.6,791.5 572.1,785.5 575.9,809.5 580.0,782.1 584.0,761.9 586.1,764.1 588.3,794.0 590.4,791.9 592.1,809.0 594.3,802.6 597.5,812.2 601.8,797.3 605.0,810.1 608.8,780.1 611.0,794.0 613.5,781.2 617.4,805.8 622.1,769.4 624.2,767.3 628.5,729.8 631.1,727.7 633.2,742.7 635.4,732.0 637.5,747.0 640.3,656.0 643.9,702.0 646.7,734.1 648.8,727.7 652.1,734.1 655.3,761.9 659.5,665.6 662.8,596.1 666.6,630.3 669.8,600.3 672.4,622.8 674.5,666.7 677.7,680.6 681.0,739.5 683.1,744.8 686.3,712.7 689.5,699.9 692.1,721.3 694.4,706.3 700.0,740.5 701.8,779.1 705.4,761.9 709.3,768.4 713.5,802.6 716.8,781.2 722.1,780.1 725.3,824.0 728.5,799.4 731.7,796.2 735.4,713.8 740.3,760.9 743.1,611.0 746.7,643.1 748.9,602.5 752.1,635.7" fill="none" stroke="#5b008b" stroke-width="3" stroke-opacity="0.7" stroke-linejoin="round" stroke-linecap="round"/>
<polyline points="849.2,868.0 854.4,867.1 857.7,848.8 860.8,847.8 864.1,870.0 870.8,868.0 874.7,866.1 875.6,800.6 877.6,802.6 879.5,816.0 880.8,773.7 883.3,779.5 884.7,781.4 888.1,860.3 891.0,865.2 895.5,867.1 898.7,822.8 901.6,837.2 903.9,824.7 906.4,827.6 911.2,867.1 921.8,869.0 924.7,865.2 930.5,869.0 934.4,865.2 937.2,869.0 940.1,865.2 944.9,858.4 947.5,859.4 949.4,785.2 953.6,821.8 956.5,846.9 958.4,872.9 972.9,871.9 990.0,872.9 993.2,872.6 997.2,769.0 1000.3,832.6 1002.7,839.6 1006.2,853.7 1009.7,870.2 1038.0,872.6 1041.5,856.1 1046.2,870.2 1053.3,690.1 1056.8,733.7 1060.3,785.5 1065.1,870.2 1068.6,872.6 1070.9,863.2 1073.3,872.6 1116.9,872.6 1119.2,871.4 1135.0,872.6 1264.1,874.3 1266.7,873.7 1270.2,809.3 1271.7,864.8 1275.0,813.8 1279.2,867.8 1284.0,872.2 1299.7,873.0 1302.7,855.0 1304.9,870.0 1309.4,870.7 1310.9,872.2 1340.9,873.7 1342.4,849.0 1344.6,849.0 1346.9,864.8 1351.4,870.7 1352.9,853.5 1355.9,852.0 1360.4,866.3 1367.9,871.5 1448.0,873.7" fill="none" stroke="#9ad333" stroke-width="3" stroke-opacity="0.7" stroke-linejoin="round" stroke-linecap="round"/>
<polyline points="849.2,805.5 851.2,808.3 854.4,794.9 856.9,740.9 860.2,742.9 863.1,756.4 866.0,787.2 870.4,735.2 875.6,742.9 879.5,742.9 883.3,745.8 887.2,746.7 889.1,768.9 893.0,756.4 895.8,758.3 897.8,737.1 901.6,736.1 905.5,737.1 908.4,738.1 911.6,779.5 915.1,778.5 918.6,786.2 921.8,786.2 927.0,744.8 932.0,772.7 938.2,740.9 945.9,734.2 951.3,746.7 956.1,739.0 959.4,756.4 963.2,762.1 969.0,792.9 972.9,781.4 977.7,787.2 981.0,803.5 983.5,793.9 987.9,792.9 990.0,809.3 992.1,813.7 995.6,747.8 1000.3,738.4 1003.8,739.5 1007.4,738.4 1011.4,766.6 1015.1,797.2 1018.4,787.8 1023.1,786.6 1026.2,800.8 1029.7,794.9 1035.6,811.4 1038.7,822.0 1042.7,747.8 1045.0,763.1 1048.6,743.1 1053.3,743.1 1058.0,746.6 1062.7,745.4 1065.1,733.7 1068.6,747.8 1072.1,740.7 1078.0,771.3 1082.7,780.8 1085.8,813.7 1088.6,801.9 1095.7,832.6 1099.2,814.9 1102.7,816.1 1106.3,806.7 1111.0,803.1 1115.7,791.3 1119.2,794.9 1123.9,771.3 1130.5,829.0 1135.0,806.7 1138.4,803.5 1141.4,832.2 1145.1,833.2 1149.5,814.3 1153.2,831.1 1157.6,817.6 1160.8,821.9 1164.6,845.7 1167.3,839.2 1173.2,831.6 1176.3,847.3 1180.8,830.5 1183.0,825.1 1189.5,820.8 1197.6,847.8 1202.4,831.6 1210.5,846.2 1214.9,818.6 1218.6,819.7 1222.4,842.4 1226.2,825.1 1232.7,847.3 1237.0,823.0 1240.3,833.8 1245.7,844.1 1248.9,831.6 1256.5,852.2 1260.3,846.2 1265.1,850.0 1266.0,849.0 1269.7,794.3 1272.7,810.8 1276.5,755.4 1281.0,794.3 1287.0,816.1 1290.7,840.8 1294.5,834.8 1299.7,845.3 1304.2,818.3 1309.1,782.4 1313.9,837.8 1319.2,816.8 1325.9,842.3 1328.2,827.3 1335.7,846.8 1340.1,845.3 1343.9,785.4 1349.1,843.8 1352.1,831.0 1361.9,849.0 1367.1,842.3 1371.6,853.5 1376.9,843.8 1380.6,848.3 1384.3,777.9 1386.6,770.4 1390.3,781.6 1394.8,814.6 1399.3,801.8 1406.1,828.1 1408.3,818.3 1414.3,817.6 1418.1,843.8 1421.8,821.3 1429.3,845.3 1433.0,819.8 1439.0,847.5 1442.8,844.5 1448.0,844.5" fill="none" stroke="#d15942" stroke-width="3" stroke-opacity="0.7" stroke-linejoin="round" stroke-linecap="round"/>
<polyline points="849.2,789.1 851.2,792.0 853.5,783.3 855.0,779.5 856.4,725.5 858.9,710.1 861.6,717.8 864.1,744.8 866.0,773.7 868.9,740.9 870.8,727.5 872.7,732.3 874.7,731.3 875.6,662.0 877.6,662.0 879.5,672.6 880.8,629.3 882.7,636.0 884.7,637.0 887.2,683.2 889.1,742.9 892.0,740.9 894.9,737.1 896.2,725.5 898.7,678.4 901.6,690.9 903.9,680.3 906.4,683.2 909.3,714.0 911.6,766.0 914.7,758.3 918.0,767.9 920.9,769.8 926.7,732.3 929.0,737.1 931.5,754.4 934.4,731.3 937.2,730.4 940.1,723.6 944.0,711.1 947.5,716.9 949.8,650.4 952.7,667.8 956.5,693.8 959.0,735.2 963.2,746.7 966.1,754.4 969.4,777.5 973.8,765.0 977.1,769.8 980.6,787.2 983.5,775.6 987.3,768.9 990.0,787.2 992.5,800.8 995.6,651.2 997.2,633.6 999.6,679.5 1002.0,691.3 1005.0,693.6 1008.5,714.8 1011.4,738.4 1015.1,780.8 1018.0,771.3 1022.7,769.0 1026.2,783.1 1028.6,776.0 1032.1,792.5 1035.6,790.2 1038.7,807.8 1041.5,721.9 1043.9,723.1 1045.7,745.4 1049.0,597.1 1053.3,563.0 1056.8,599.4 1060.8,656.0 1066.2,733.7 1068.6,736.0 1071.4,720.7 1074.5,743.1 1079.2,757.2 1083.4,773.7 1086.2,798.4 1088.6,792.5 1092.1,798.4 1095.7,822.0 1098.5,804.3 1103.9,797.2 1107.4,803.1 1111.0,787.8 1115.7,773.7 1120.4,766.6 1123.9,757.2 1126.3,766.6 1130.5,817.2 1135.0,794.9 1135.9,795.4 1138.6,788.4 1140.8,797.0 1142.4,820.8 1145.1,823.0 1146.8,807.8 1150.0,801.9 1153.2,820.8 1155.4,805.7 1158.3,806.8 1162.4,818.6 1164.6,837.0 1166.5,820.8 1167.8,830.5 1173.2,821.9 1176.5,840.3 1178.6,827.3 1183.0,814.3 1185.7,815.4 1189.5,807.8 1197.0,840.3 1202.4,821.4 1205.7,826.2 1210.5,839.2 1213.8,804.1 1216.5,810.0 1219.2,807.3 1222.4,834.3 1225.1,816.5 1228.4,816.5 1232.7,840.3 1237.0,810.5 1239.2,821.9 1241.4,823.0 1245.7,837.0 1248.9,818.6 1252.2,830.5 1257.0,844.1 1260.3,835.9 1265.7,841.9 1266.0,841.5 1269.7,711.9 1272.0,765.9 1273.8,779.4 1276.5,691.0 1278.7,729.9 1282.2,777.9 1284.7,789.9 1287.0,800.3 1288.5,800.3 1291.2,828.1 1294.5,825.1 1297.5,828.8 1299.7,834.0 1302.7,789.9 1304.9,804.8 1309.4,762.9 1314.7,824.3 1318.4,800.3 1320.7,801.8 1325.9,828.1 1328.2,812.3 1333.4,821.3 1335.7,834.8 1339.4,830.3 1343.9,735.9 1348.4,828.1 1355.1,795.1 1358.1,813.8 1363.4,834.8 1367.1,825.8 1371.6,841.5 1376.9,830.3 1379.9,835.5 1382.5,762.9 1386.6,756.9 1388.8,764.4 1392.6,768.9 1394.8,801.8 1401.6,785.4 1406.8,810.1 1408.3,804.1 1411.3,805.6 1414.3,798.8 1418.1,834.0 1420.3,807.1 1426.3,817.6 1429.3,834.8 1433.0,808.6 1439.0,835.5 1442.0,834.0 1445.8,837.0 1448.0,835.5" fill="none" stroke="#140082" stroke-width="3" stroke-opacity="0.7" stroke-linejoin="round" stroke-linecap="round"/>
<polyline points="153.8,1264.5 157.2,1270.5 160.5,1267.2 165.3,1277.3 168.6,1293.5 170.7,1294.2 173.4,1275.9 176.1,1278.6 179.5,1301.6 181.8,1338.1 184.2,1333.4 188.2,1296.2 191.6,1304.3 196.4,1315.1 200.4,1297.6 205.8,1280.7 208.5,1284.1 212.6,1278.6 215.9,1290.8 220.7,1305.7 224.7,1307.7 226.1,1315.1 231.5,1300.9 237.6,1290.8 240.9,1312.4 244.3,1332.7 248.4,1321.9 251.8,1300.3 254.5,1298.9 258.5,1275.9 261.9,1251.6 266.6,1233.4 270.7,1251.6 274.1,1286.8 276.8,1280.0 281.5,1250.3 284.9,1238.1 288.9,1244.9 293.6,1225.9 297.7,1231.4 302.4,1248.9 307.2,1225.9 311.2,1240.1 316.6,1220.5 322.0,1203.6 328.8,1188.1 335.8,1200.1 341.2,1172.4 345.3,1191.4 348.6,1204.9 356.1,1192.7 360.1,1169.7 365.5,1154.9 370.9,1167.7 374.3,1156.2 379.1,1181.9 380.4,1197.4 384.5,1191.4 391.2,1198.8 398.0,1191.4 406.1,1173.8 412.8,1131.9 415.5,1115.7 422.3,1100.8 429.1,1092.0 435.8,1108.9 439.2,1095.4 445.9,1110.9 452.0,1073.8 456.8,1067.0 461.5,1040.0 463.8,1021.4 467.8,1024.1 470.5,1015.3 474.6,1018.6 477.3,1009.2 479.3,1013.9 482.7,1007.8 486.1,995.0 488.8,993.0 492.2,980.8 495.5,987.6 499.6,1036.2 503.0,1005.1 506.4,1004.5 509.7,996.4 513.1,1024.1 517.2,1028.8 521.2,1022.7 524.6,1049.7 528.6,1017.3 531.4,1007.8 534.7,1037.6 539.5,1013.2 544.2,1043.0 548.2,1047.0 551.6,1049.7 556.4,1070.0 563.1,1032.2 567.2,1056.5 572.6,1086.2 575.9,1070.0 580.7,1110.5 586.1,1121.4 590.1,1098.4 595.5,1078.1 600.9,1100.4 605.7,1080.1 612.4,1113.2 615.8,1121.4 618.5,1134.9 619.0,1144.9 621.9,1155.1 625.6,1141.9 629.2,1147.8 631.4,1162.4 638.0,1143.4 642.4,1150.7 646.5,1141.9 650.4,1181.4 654.8,1168.3 661.4,1206.3 664.3,1215.0 669.5,1226.7 673.1,1237.0 679.0,1249.4 684.8,1256.7 690.7,1266.2 693.6,1285.2 698.0,1311.5 701.6,1307.2 705.3,1314.5 708.9,1302.8 712.6,1302.8 714.8,1306.4 719.9,1305.0 724.3,1284.5 729.4,1293.3 734.5,1266.2 741.8,1242.8 745.5,1261.1 752.1,1274.3" fill="none" stroke="#e8e41e" stroke-width="3" stroke-opacity="0.7" stroke-linejoin="round" stroke-linecap="round"/>
<polyline points="153.8,1253.0 155.5,1254.3 157.2,1259.7 160.5,1257.0 163.2,1258.4 166.6,1255.7 170.0,1256.4 172.0,1257.7 174.7,1258.4 178.1,1271.9 181.5,1296.9 184.9,1286.8 188.2,1281.4 190.9,1285.4 195.0,1296.9 198.4,1285.4 201.1,1281.4 205.1,1269.9 208.5,1271.9 213.2,1265.8 216.6,1281.4 220.7,1293.5 224.1,1296.2 226.1,1303.0 231.5,1288.1 237.6,1279.3 239.6,1281.4 243.6,1298.9 246.4,1297.6 249.1,1284.7 253.1,1280.0 256.5,1271.9 261.9,1239.5 263.9,1236.8 267.3,1228.0 270.7,1231.4 274.1,1253.0 276.8,1248.9 278.8,1252.3 282.8,1237.4 286.2,1238.1 288.2,1236.1 295.0,1223.2 299.7,1228.6 303.1,1241.5 308.5,1219.2 311.2,1223.2 315.9,1219.2 320.0,1200.3 324.1,1198.9 328.1,1180.0 329.7,1171.1 331.8,1171.8 336.5,1196.8 339.9,1187.3 343.2,1172.4 345.0,1173.1 349.3,1203.5 354.7,1186.6 357.4,1185.3 360.8,1166.4 365.5,1148.1 370.9,1163.6 374.3,1152.2 379.7,1175.1 381.8,1188.6 385.1,1181.2 391.2,1192.7 395.3,1183.9 402.0,1177.2 406.8,1168.4 411.5,1130.5 416.9,1125.1 423.0,1099.5 427.7,1099.5 431.1,1092.7 436.5,1106.2 438.5,1093.4 444.6,1125.1 447.3,1125.1 451.4,1110.9 456.8,1081.9 460.1,1079.9 462.8,1057.6 466.2,1046.8 468.9,1048.1 473.6,1040.0 473.9,1034.9 477.3,1030.1 480.7,1034.9 484.7,1015.9 487.4,1020.0 490.8,1009.2 494.2,994.3 496.9,1001.1 500.3,1025.4 502.3,1013.2 505.0,1025.4 508.4,1019.3 511.8,1010.5 514.5,1015.9 517.2,1034.9 519.9,1031.5 523.2,1029.5 526.6,1023.4 531.4,984.2 535.4,1021.4 541.5,994.3 546.9,1034.9 550.3,1036.2 552.6,1007.8 556.4,1046.4 559.7,1025.4 564.5,1009.9 568.5,1047.0 571.2,1061.9 575.9,1067.3 580.7,1095.7 585.4,1112.6 590.1,1098.4 595.5,1080.8 600.3,1084.9 606.4,1070.7 610.4,1093.0 615.8,1102.4 619.9,1122.7 623.2,1134.2 624.1,1136.8 626.3,1147.1 631.4,1161.7 635.1,1155.8 638.3,1143.4 641.7,1147.1 646.5,1136.8 651.9,1159.5 654.8,1157.3 659.2,1177.0 663.6,1204.1 668.0,1207.0 671.6,1223.1 675.3,1227.5 679.7,1236.2 686.3,1242.1 690.7,1264.0 694.3,1277.9 699.4,1277.2 701.6,1272.1 704.5,1278.6 708.2,1270.6 712.6,1269.1 716.2,1261.8 718.4,1264.8 722.8,1255.3 726.5,1244.0 728.7,1261.8 732.3,1245.7 736.0,1250.9 741.8,1237.7 746.2,1248.7 752.1,1260.4" fill="none" stroke="#e8ac73" stroke-width="3" stroke-opacity="0.7" stroke-linejoin="round" stroke-linecap="round"/>
<polyline points="153.8,1253.0 155.5,1254.3 157.2,1259.7 160.5,1257.0 163.2,1258.4 166.6,1255.7 170.0,1256.4 172.0,1257.7 174.7,1258.4 178.1,1271.9 181.5,1296.9 184.9,1286.8 188.2,1281.4 190.9,1285.4 195.0,1296.9 198.4,1285.4 201.1,1281.4 205.1,1269.9 208.5,1271.9 213.2,1265.8 216.6,1281.4 220.7,1293.5 224.1,1296.2 226.1,1303.0 231.5,1288.1 237.6,1279.3 239.6,1281.4 243.6,1298.9 246.4,1297.6 249.1,1284.7 253.1,1280.0 256.5,1271.9 261.9,1239.5 263.9,1236.8 267.3,1228.0 270.7,1231.4 274.1,1253.0 276.8,1248.9 278.8,1252.3 282.8,1237.4 286.2,1238.1 288.2,1236.1 295.0,1223.2 299.7,1228.6 303.1,1241.5 308.5,1219.2 311.2,1223.2 315.9,1219.2 320.0,1200.3 324.1,1198.9 328.1,1180.0 329.7,1171.1 331.8,1171.8 336.5,1196.8 339.9,1187.3 343.2,1172.4 345.0,1173.1 349.3,1203.5 354.7,1186.6 357.4,1185.3 360.8,1166.4 365.5,1148.1 370.9,1163.6 374.3,1152.2 379.7,1175.1 381.8,1188.6 385.1,1181.2 391.2,1192.7 395.3,1183.9 402.0,1177.2 406.8,1168.4 411.5,1130.5 416.9,1125.1 423.0,1099.5 427.7,1099.5 431.1,1092.7 436.5,1106.2 438.5,1093.4 444.6,1125.1 447.3,1125.1 451.4,1110.9 456.8,1081.9 460.1,1079.9 462.8,1057.6 466.2,1046.8 468.9,1048.1 473.6,1040.0 473.9,1034.9 477.3,1030.1 480.7,1034.9 484.7,1015.9 487.4,1020.0 490.8,1009.2 494.2,994.3 496.9,1001.1 500.3,1025.4 502.3,1013.2 505.0,1025.4 508.4,1019.3 511.8,1010.5 514.5,1015.9 517.2,1034.9 519.9,1031.5 523.2,1029.5 526.6,1023.4 531.4,991.6 535.4,1021.4 541.5,1001.1 546.9,1034.9 550.3,1036.2 553.0,1028.1 556.4,1046.4 559.7,1025.4 564.5,1012.6 568.5,1047.0 571.2,1061.9 575.9,1067.3 580.7,1095.7 585.4,1112.6 590.1,1098.4 595.5,1080.8 600.3,1084.9 606.4,1070.7 610.4,1093.0 615.8,1102.4 619.9,1122.7 623.2,1134.2 624.1,1136.8 626.3,1147.1 631.4,1161.7 635.1,1155.8 638.3,1143.4 641.7,1147.1 646.5,1136.8 651.9,1159.5 654.8,1157.3 659.2,1177.0 663.6,1204.1 668.0,1207.0 671.6,1223.1 675.3,1227.5 679.7,1236.2 686.3,1242.1 690.7,1264.0 694.3,1277.9 699.4,1277.2 701.6,1272.1 704.5,1278.6 708.2,1270.6 712.6,1269.1 716.2,1261.8 718.4,1264.8 722.8,1255.3 726.5,1248.7 728.7,1261.8 732.3,1245.7 736.0,1250.9 741.8,1237.7 746.2,1248.7 752.1,1260.4" fill="none" stroke="#5b008b" stroke-width="3" stroke-opacity="0.7" stroke-linejoin="round" stroke-linecap="round"/>
<polyline points="850.2,1315.3 852.2,1305.8 855.6,1282.8 859.0,1288.2 863.0,1288.9 865.7,1273.3 869.1,1280.8 875.2,1256.4 880.7,1276.0 884.7,1280.1 890.1,1303.8 894.2,1290.9 897.6,1280.1 903.7,1296.3 907.8,1314.0 913.2,1331.6 917.9,1303.1 922.0,1282.8 926.0,1276.0 929.4,1278.7 933.5,1272.6 936.2,1282.1 939.6,1274.0 943.0,1265.9 947.0,1270.6 951.8,1255.0 953.8,1269.9 958.6,1261.1 963.3,1231.3 967.4,1223.8 970.8,1231.3 973.5,1216.4 978.2,1206.9 982.3,1221.1 987.0,1223.8 990.4,1211.0 993.8,1188.6 998.5,1225.9 1001.9,1218.4 1005.3,1227.2 1010.7,1190.7 1013.6,1179.9 1017.1,1167.0 1019.6,1145.6 1022.8,1146.3 1025.0,1140.6 1027.5,1144.9 1030.0,1134.2 1031.7,1129.2 1035.0,1111.4 1037.1,1112.1 1039.9,1144.2 1041.4,1172.7 1043.2,1178.4 1044.9,1176.3 1046.4,1165.6 1049.2,1174.2 1053.1,1175.6 1055.6,1169.9 1059.2,1167.7 1062.1,1154.9 1064.9,1115.7 1067.8,1098.5 1070.3,1100.7 1072.0,1124.2 1076.0,1105.7 1078.5,1124.2 1081.0,1154.9 1084.9,1110.0 1087.4,1105.7 1089.5,1122.8 1094.2,1080.0 1097.8,1063.9 1104.1,1015.3 1108.0,1009.0 1112.0,1018.4 1115.1,1018.4 1118.2,1036.5 1122.2,1031.0 1126.1,1049.8 1132.4,1040.4 1135.5,1056.1 1140.2,1018.4 1146.5,991.8 1150.4,982.4 1156.7,961.2 1161.4,1010.6 1167.6,987.1 1174.7,954.1 1181.0,951.0 1184.9,955.7 1188.8,990.2 1196.7,1005.9 1202.9,987.1 1207.6,968.2 1210.5,972.9 1214.2,996.9 1218.0,998.4 1224.0,1021.6 1228.5,1037.3 1234.4,1002.9 1237.4,1023.1 1243.4,1011.1 1247.9,1004.4 1251.7,1030.6 1259.9,1056.8 1265.9,1044.8 1268.1,1089.7 1270.4,1112.2 1274.9,1100.2 1280.1,1127.9 1283.1,1119.7 1286.9,1137.7 1293.6,1121.9 1298.1,1122.7 1303.3,1149.6 1307.8,1133.5 1310.7,1143.5 1315.0,1144.9 1318.5,1152.8 1320.7,1185.6 1324.2,1194.8 1327.8,1191.3 1330.6,1204.8 1335.6,1183.4 1340.6,1170.6 1343.5,1189.1 1349.9,1185.6 1353.5,1191.3 1356.3,1179.2 1360.6,1181.3 1363.4,1172.0 1368.4,1188.4 1371.3,1196.3 1374.9,1196.3 1379.8,1188.4 1382.0,1194.1 1385.6,1244.0 1389.8,1246.9 1392.7,1271.1 1398.4,1255.4 1401.2,1254.0 1407.7,1238.3 1411.2,1236.9 1416.2,1255.4 1419.8,1245.5 1424.1,1241.2 1429.0,1229.8 1432.6,1225.5 1441.2,1219.1 1444.0,1220.5 1446.9,1229.1" fill="none" stroke="#9ad333" stroke-width="3" stroke-opacity="0.7" stroke-linejoin="round" stroke-linecap="round"/>
<polyline points="849.5,1275.3 852.2,1271.3 854.2,1258.4 856.3,1267.9 857.6,1269.2 860.3,1275.3 863.0,1274.7 865.7,1257.0 868.5,1257.0 870.5,1249.6 875.2,1242.8 878.6,1254.3 882.7,1265.9 886.7,1274.7 890.1,1278.0 894.2,1268.6 897.6,1267.9 903.0,1277.4 906.4,1289.6 909.1,1300.4 913.2,1299.7 917.9,1280.1 923.3,1267.9 926.7,1260.4 930.1,1261.8 933.5,1257.0 935.5,1262.5 938.9,1261.1 943.0,1255.7 945.7,1258.4 951.1,1243.5 954.5,1256.4 959.2,1239.4 964.7,1223.8 968.0,1220.5 971.4,1221.8 977.5,1202.2 980.2,1204.9 985.7,1197.4 987.7,1204.9 992.4,1194.0 995.8,1197.4 999.2,1217.8 1002.6,1211.7 1006.0,1220.5 1009.4,1216.4 1015.7,1179.9 1018.5,1170.6 1022.8,1150.6 1025.0,1149.9 1028.5,1159.5 1030.7,1154.2 1033.5,1134.2 1038.5,1117.1 1040.7,1126.4 1043.2,1151.3 1044.9,1142.1 1046.4,1149.9 1049.9,1165.6 1052.8,1165.6 1055.6,1164.9 1058.5,1162.0 1062.1,1152.0 1064.2,1138.5 1068.1,1118.9 1070.3,1119.9 1073.5,1134.2 1077.7,1134.9 1081.0,1146.3 1083.1,1142.1 1087.4,1121.0 1089.2,1122.8 1093.1,1110.0 1097.0,1080.0 1097.8,1070.2 1102.5,1034.1 1107.3,1023.1 1112.0,1026.3 1116.7,1042.7 1121.4,1048.2 1125.3,1062.4 1128.4,1062.4 1132.4,1051.4 1135.5,1052.9 1140.2,1024.7 1143.3,1009.8 1149.6,998.0 1152.7,990.2 1157.5,970.6 1161.4,998.8 1165.3,970.6 1168.4,986.3 1174.7,951.0 1177.1,954.9 1180.2,962.0 1183.3,958.0 1186.5,958.0 1189.6,979.2 1192.7,967.5 1195.9,994.9 1200.0,983.4 1206.7,964.7 1210.8,959.5 1214.2,989.4 1217.2,976.7 1221.0,979.7 1227.0,1005.9 1233.7,975.2 1238.9,1011.9 1244.9,982.7 1250.9,1002.1 1254.7,1000.6 1259.9,1032.1 1265.9,1013.4 1270.4,1046.3 1273.4,1049.3 1276.4,1062.8 1283.1,1094.2 1288.3,1098.7 1292.8,1092.0 1295.8,1097.2 1301.1,1089.0 1303.3,1107.7 1306.3,1106.2 1310.1,1116.7 1314.6,1105.5 1316.8,1109.2 1322.0,1149.6 1322.8,1154.2 1325.7,1143.5 1330.6,1172.7 1335.6,1142.8 1339.9,1133.5 1344.2,1149.9 1348.5,1128.5 1353.5,1145.6 1358.5,1125.0 1362.7,1119.3 1367.0,1117.1 1371.3,1135.7 1376.3,1128.5 1379.8,1123.5 1382.7,1141.4 1387.0,1199.8 1392.0,1231.2 1394.8,1228.4 1399.8,1224.1 1405.5,1205.5 1411.2,1209.8 1415.5,1204.8 1418.4,1204.1 1422.6,1202.7 1426.2,1188.4 1429.0,1174.9 1432.6,1197.0 1436.9,1167.0 1440.5,1161.3 1444.0,1159.9 1446.9,1167.0" fill="none" stroke="#d15942" stroke-width="3" stroke-opacity="0.7" stroke-linejoin="round" stroke-linecap="round"/>
<polyline points="849.5,1275.3 852.2,1271.3 854.2,1258.4 856.3,1267.9 857.6,1269.2 860.3,1275.3 863.0,1274.7 865.7,1257.0 868.5,1257.0 870.5,1249.6 875.2,1242.8 878.6,1254.3 882.7,1265.9 886.7,1274.7 890.1,1278.0 894.2,1268.6 897.6,1267.9 903.0,1277.4 906.4,1289.6 909.1,1300.4 913.2,1299.7 917.9,1280.1 923.3,1267.9 926.7,1260.4 930.1,1261.8 933.5,1257.0 935.5,1262.5 938.9,1261.1 943.0,1255.7 945.7,1258.4 951.1,1243.5 954.5,1256.4 959.2,1239.4 964.7,1223.8 968.0,1220.5 971.4,1221.8 977.5,1202.2 980.2,1204.9 985.7,1197.4 987.7,1204.9 992.4,1194.0 995.8,1197.4 999.2,1217.8 1002.6,1211.7 1006.0,1220.5 1009.4,1216.4 1015.7,1179.9 1018.5,1170.6 1022.8,1150.6 1025.0,1149.9 1028.5,1158.1 1030.7,1154.2 1033.5,1134.2 1038.5,1117.1 1040.7,1126.4 1043.2,1154.9 1044.6,1144.2 1046.4,1149.9 1049.9,1167.0 1053.1,1169.9 1055.6,1165.6 1058.5,1162.7 1062.1,1152.0 1064.2,1138.5 1068.1,1118.9 1070.3,1119.9 1073.5,1132.1 1077.7,1134.9 1081.0,1146.3 1083.1,1142.1 1087.4,1121.0 1089.2,1122.8 1093.1,1110.0 1097.0,1080.0 1097.8,1070.2 1102.5,1034.1 1107.3,1023.1 1112.0,1026.3 1116.7,1042.7 1121.4,1048.2 1125.3,1062.4 1128.4,1062.4 1132.4,1051.4 1135.5,1052.9 1140.2,1024.7 1143.3,1009.8 1149.6,998.0 1152.7,990.2 1157.5,970.6 1161.4,998.8 1166.1,979.2 1168.4,986.3 1173.1,965.1 1177.1,954.9 1180.2,962.0 1183.3,958.0 1186.5,958.0 1189.6,979.2 1192.7,974.5 1195.9,994.9 1202.9,987.1 1204.5,991.0 1207.6,971.4 1210.0,968.2 1210.5,967.7 1214.2,993.2 1218.0,982.7 1221.0,986.4 1227.7,1014.9 1234.4,993.2 1238.9,1017.9 1243.4,1008.9 1247.2,991.7 1250.9,1007.4 1253.9,1013.4 1260.6,1044.8 1265.9,1025.4 1269.6,1066.5 1271.9,1059.8 1274.9,1064.3 1277.9,1082.3 1282.4,1097.2 1288.3,1103.2 1289.8,1110.0 1293.6,1102.5 1296.6,1106.2 1299.6,1101.0 1302.6,1127.2 1306.3,1112.2 1310.1,1121.2 1316.1,1114.5 1321.3,1149.6 1324.2,1165.6 1327.4,1157.8 1331.4,1176.3 1335.6,1162.7 1337.8,1149.9 1340.6,1145.6 1344.2,1158.5 1346.3,1153.5 1349.9,1145.6 1353.5,1159.9 1357.7,1147.1 1363.4,1136.4 1367.0,1137.8 1372.0,1156.3 1376.3,1145.6 1379.8,1140.6 1384.8,1182.7 1387.0,1201.3 1389.8,1212.7 1392.0,1231.2 1393.4,1236.9 1395.5,1229.8 1398.4,1233.3 1402.7,1221.9 1406.2,1209.1 1409.8,1211.2 1414.1,1213.4 1419.1,1208.4 1421.2,1219.1 1424.8,1204.1 1428.3,1199.8 1430.5,1182.7 1434.0,1199.8 1440.5,1173.4 1444.7,1175.6 1446.9,1179.2" fill="none" stroke="#140082" stroke-width="3" stroke-opacity="0.7" stroke-linejoin="round" stroke-linecap="round"/>
</svg></body></html>
